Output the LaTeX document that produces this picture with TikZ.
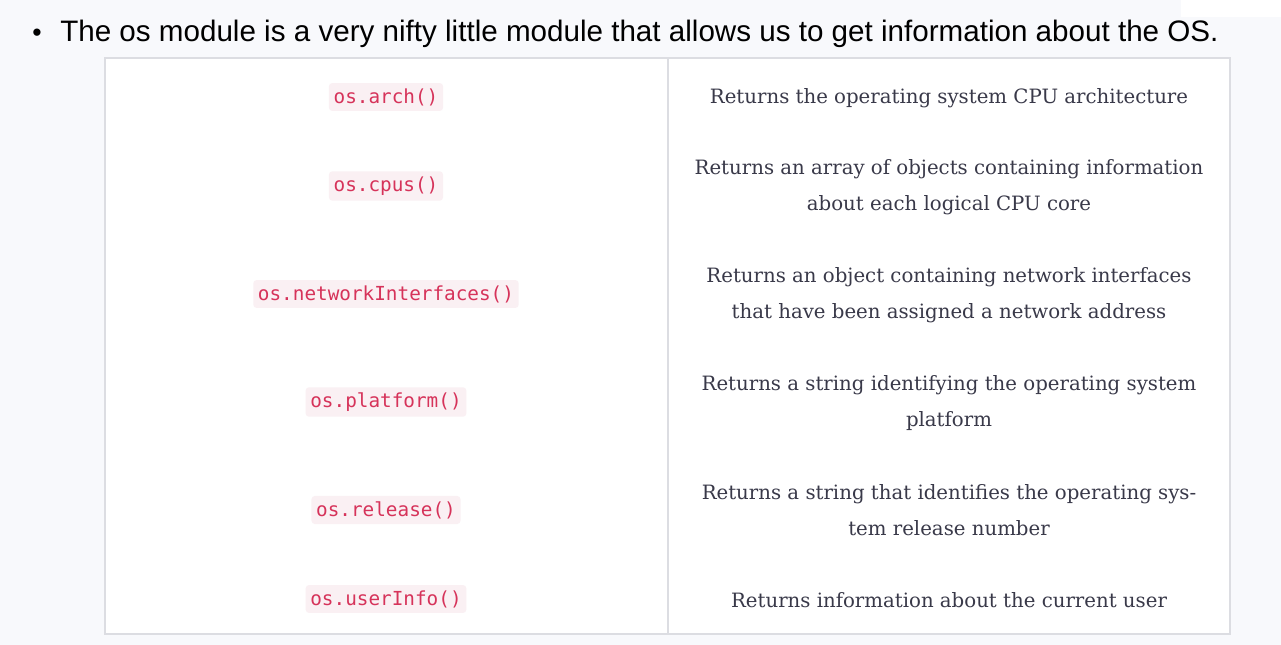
\documentclass[tikz,border=0pt]{standalone}
\usepackage{fontspec}
\setmainfont{DejaVu Serif}
\newfontfamily\titlefont{Liberation Sans}
\newfontfamily\codefont{DejaVu Sans Mono}
\definecolor{pagebg}{HTML}{F8F9FC}
\definecolor{codered}{HTML}{D6335A}
\definecolor{codebg}{HTML}{FAF0F3}
\definecolor{desctext}{HTML}{393949}
\definecolor{rulegray}{HTML}{DCDDE2}
\begin{document}
\begin{tikzpicture}[x=0.75pt, y=-0.75pt,
    codebox/.style={fill=codebg, text=codered, rounded corners=2.5pt,
      inner xsep=3.5pt, inner ysep=4pt, font=\codefont\fontsize{14.5}{16}\selectfont},
    desc/.style={text=desctext, align=center, font=\fontsize{14.8}{27}\selectfont}]
    % page and table
    \fill[pagebg] (0,0) rectangle (1281,645);
    \fill[white] (1181,0) rectangle (1281,17);
    \coordinate (tl) at (105,58);
    \coordinate (br) at (1230,634);
    \coordinate (dtop) at (668,58);
    \coordinate (dbot) at (668,634);
    \draw[rulegray, fill=white, line width=0.9pt] (tl) rectangle (br);
    \draw[rulegray, line width=0.9pt] (dtop) -- (dbot);

    \node[anchor=base, font=\titlefont\fontsize{20}{24}\selectfont] (bullet) at (37,42) {•};
    \node[anchor=base west, inner sep=0pt, font=\titlefont\fontsize{22.2}{26}\selectfont] (title) at (60,42)
      {The os module is a very nifty little module that allows us to get information about the OS.};

    % rows
    \node[codebox] (arch) at (386,97) {os.arch()};
    \node[desc] (archdesc) at (949,98) {Returns the operating system CPU architecture};

    \node[codebox] (cpus) at (386,186) {os.cpus()};
    \node[desc] (cpusdesc) at (949,187) {Returns an array of objects containing information\\about each logical CPU core};

    \node[codebox] (netif) at (386,294) {os.networkInterfaces()};
    \node[desc] (netifdesc) at (949,295) {Returns an object containing network interfaces\\that have been assigned a network address};

    \node[codebox] (platform) at (386,402) {os.platform()};
    \node[desc] (platformdesc) at (949,403) {Returns a string identifying the operating system\\platform};

    \node[codebox] (release) at (386,510) {os.release()};
    \node[desc] (releasedesc) at (949,510) {Returns a string that identifies the operating sys-\\tem release number};

    \node[codebox] (userinfo) at (386,599) {os.userInfo()};
    \node[desc] (userinfodesc) at (949,600) {Returns information about the current user};
\end{tikzpicture}
\end{document}
